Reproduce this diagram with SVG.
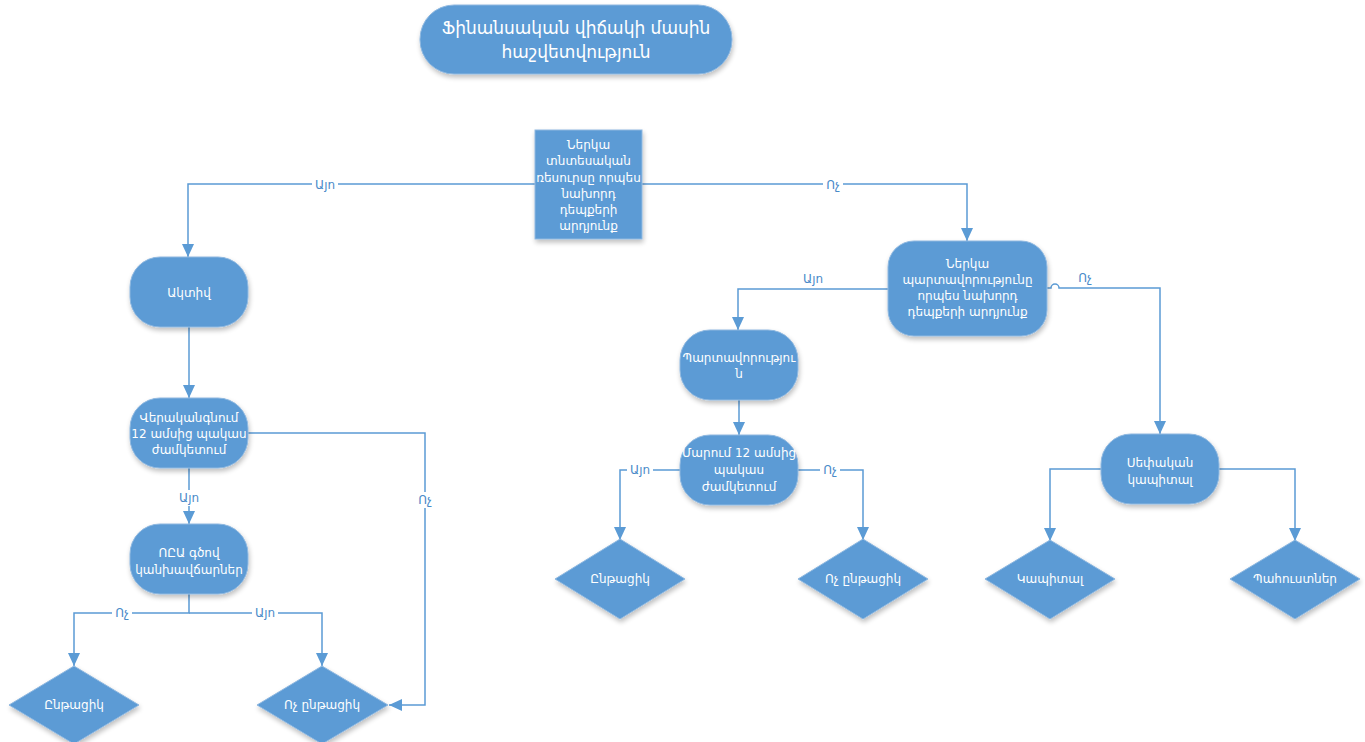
<svg xmlns="http://www.w3.org/2000/svg" width="1365" height="742" viewBox="0 0 1365 742">
  <style>
    .node { fill: #5b9bd5; stroke: #8fb8e0; stroke-width: 1; filter: url(#shadow); }
    .ntext { fill: #ffffff; font-family: "DejaVu Sans", "Noto Sans", sans-serif; font-size: 12px; text-anchor: middle; }
    .ttext { fill: #ffffff; font-family: "DejaVu Sans", "Noto Sans", sans-serif; font-size: 17px; text-anchor: middle; }
    .edge { fill: none; stroke: #5b9bd5; stroke-width: 1.5; }
    .lbl { fill: #4a8ac9; font-family: "DejaVu Sans", "Noto Sans", sans-serif; font-size: 12px; text-anchor: middle; }
    .lblbg { fill: #ffffff; }
  </style>
  <defs>
    <filter id="shadow" x="-20%" y="-20%" width="140%" height="150%">
      <feGaussianBlur in="SourceAlpha" stdDeviation="2.5"/>
      <feOffset dx="1" dy="3" result="b"/>
      <feComponentTransfer><feFuncA type="linear" slope="0.25"/></feComponentTransfer>
      <feMerge><feMergeNode/><feMergeNode in="SourceGraphic"/></feMerge>
    </filter>
    <marker id="arrow" markerUnits="userSpaceOnUse" markerWidth="14" markerHeight="14" viewBox="0 0 14 14" refX="13" refY="7" orient="auto">
      <path d="M0,1 L13,7 L0,13 Z" fill="#5b9bd5"/>
    </marker>
  </defs>

  <rect width="1365" height="742" fill="#ffffff"/>

  <!-- connectors -->
  <g id="connectors">
    <path class="edge" d="M535,184 H188 V257" marker-end="url(#arrow)"/>
    <path class="edge" d="M642,184 H967 V241" marker-end="url(#arrow)"/>
    <path class="edge" d="M189,327 V398" marker-end="url(#arrow)"/>
    <path class="edge" d="M189,468 V524" marker-end="url(#arrow)"/>
    <path class="edge" d="M248,433 H425 V705 H389" marker-end="url(#arrow)"/>
    <path class="edge" d="M189,594 V613 H74 V666" marker-end="url(#arrow)"/>
    <path class="edge" d="M189,613 H322 V666" marker-end="url(#arrow)"/>
    <path class="edge" d="M888,289 H738 V330" marker-end="url(#arrow)"/>
    <path class="edge" d="M1047,288 H1051 A4,4 0 0 1 1059,288 H1160 V434" marker-end="url(#arrow)"/>
    <path class="edge" d="M739,400 V435" marker-end="url(#arrow)"/>
    <path class="edge" d="M680,470 H620 V540" marker-end="url(#arrow)"/>
    <path class="edge" d="M798,470 H863 V540" marker-end="url(#arrow)"/>
    <path class="edge" d="M1101,469 H1050 V541" marker-end="url(#arrow)"/>
    <path class="edge" d="M1219,469 H1295 V541" marker-end="url(#arrow)"/>

    <!-- edge labels -->
    <rect class="lblbg" x="312" y="176" width="26" height="16"/>
    <text class="lbl" x="325" y="189">Այո</text>
    <rect class="lblbg" x="823" y="176" width="20" height="16"/>
    <text class="lbl" x="833" y="189">Ոչ</text>
    <rect class="lblbg" x="176" y="490" width="26" height="16"/>
    <text class="lbl" x="189" y="502">Այո</text>
    <rect class="lblbg" x="415" y="492" width="20" height="16"/>
    <text class="lbl" x="425" y="504">Ոչ</text>
    <rect class="lblbg" x="112" y="605" width="20" height="16"/>
    <text class="lbl" x="122" y="617">Ոչ</text>
    <rect class="lblbg" x="252" y="605" width="26" height="16"/>
    <text class="lbl" x="265" y="617">Այո</text>
    <text class="lbl" x="813" y="283">Այո</text>
    <text class="lbl" x="1085" y="282">Ոչ</text>
    <rect class="lblbg" x="627" y="462" width="26" height="16"/>
    <text class="lbl" x="640" y="474">Այո</text>
    <rect class="lblbg" x="820" y="462" width="20" height="16"/>
    <text class="lbl" x="830" y="474">Ոչ</text>
  </g>

  <!-- nodes -->
  <g id="title">
    <rect class="node" x="420" y="5" width="312" height="69" rx="34"/>
    <text class="ttext" x="576" y="34">Ֆինանսական վիճակի մասին</text>
    <text class="ttext" x="576" y="58">հաշվետվություն</text>
  </g>

  <g id="n-resource">
    <rect class="node" x="535" y="130" width="107" height="109"/>
    <text class="ntext" x="588.5" y="149">Ներկա</text>
    <text class="ntext" x="588.5" y="165">տնտեսական</text>
    <text class="ntext" x="588.5" y="182">ռեսուրսը որպես</text>
    <text class="ntext" x="588.5" y="198">նախորդ</text>
    <text class="ntext" x="588.5" y="214">դեպքերի</text>
    <text class="ntext" x="588.5" y="230">արդյունք</text>
  </g>

  <g id="n-asset">
    <rect class="node" x="130" y="257" width="118" height="70" rx="30"/>
    <text class="ntext" x="189" y="297">Ակտիվ</text>
  </g>

  <g id="n-recover">
    <rect class="node" x="130" y="398" width="118" height="70" rx="30"/>
    <text class="ntext" x="189" y="422">Վերականգնում</text>
    <text class="ntext" x="189" y="438">12 ամսից պակաս</text>
    <text class="ntext" x="189" y="454">ժամկետում</text>
  </g>

  <g id="n-pl">
    <rect class="node" x="130" y="524" width="118" height="70" rx="30"/>
    <text class="ntext" x="189" y="557">ՈԸԱ գծով</text>
    <text class="ntext" x="189" y="574">կանխավճարներ</text>
  </g>

  <g id="n-current-left">
    <polygon class="node" points="74,666 139,705 74,744 9,705"/>
    <text class="ntext" x="74" y="709">Ընթացիկ</text>
  </g>

  <g id="n-noncurrent-left">
    <polygon class="node" points="322,666 388,705 322,744 257,705"/>
    <text class="ntext" x="322" y="709">Ոչ ընթացիկ</text>
  </g>

  <g id="n-obligation">
    <rect class="node" x="888" y="241" width="159" height="95" rx="26"/>
    <text class="ntext" x="967.5" y="268">Ներկա</text>
    <text class="ntext" x="967.5" y="284">պարտավորությունը</text>
    <text class="ntext" x="967.5" y="300">որպես նախորդ</text>
    <text class="ntext" x="967.5" y="316">դեպքերի արդյունք</text>
  </g>

  <g id="n-liability">
    <rect class="node" x="680" y="330" width="118" height="70" rx="30"/>
    <text class="ntext" x="739" y="362">Պարտավորությու</text>
    <text class="ntext" x="739" y="378">ն</text>
  </g>

  <g id="n-settle">
    <rect class="node" x="680" y="435" width="118" height="70" rx="30"/>
    <text class="ntext" x="739" y="457">Մարում 12 ամսից</text>
    <text class="ntext" x="739" y="474">պակաս</text>
    <text class="ntext" x="739" y="491">ժամկետում</text>
  </g>

  <g id="n-current-mid">
    <polygon class="node" points="620,539 685,579 620,619 555,579"/>
    <text class="ntext" x="620" y="583">Ընթացիկ</text>
  </g>

  <g id="n-noncurrent-mid">
    <polygon class="node" points="863,539 928,579 863,619 798,579"/>
    <text class="ntext" x="863" y="583">Ոչ ընթացիկ</text>
  </g>

  <g id="n-equity">
    <rect class="node" x="1101" y="434" width="118" height="70" rx="30"/>
    <text class="ntext" x="1160" y="467">Սեփական</text>
    <text class="ntext" x="1160" y="484">կապիտալ</text>
  </g>

  <g id="n-capital">
    <polygon class="node" points="1050,540 1115,579 1050,619 985,579"/>
    <text class="ntext" x="1050" y="583">Կապիտալ</text>
  </g>

  <g id="n-reserves">
    <polygon class="node" points="1295,540 1360,579 1295,619 1230,579"/>
    <text class="ntext" x="1295" y="583">Պահուստներ</text>
  </g>
</svg>
